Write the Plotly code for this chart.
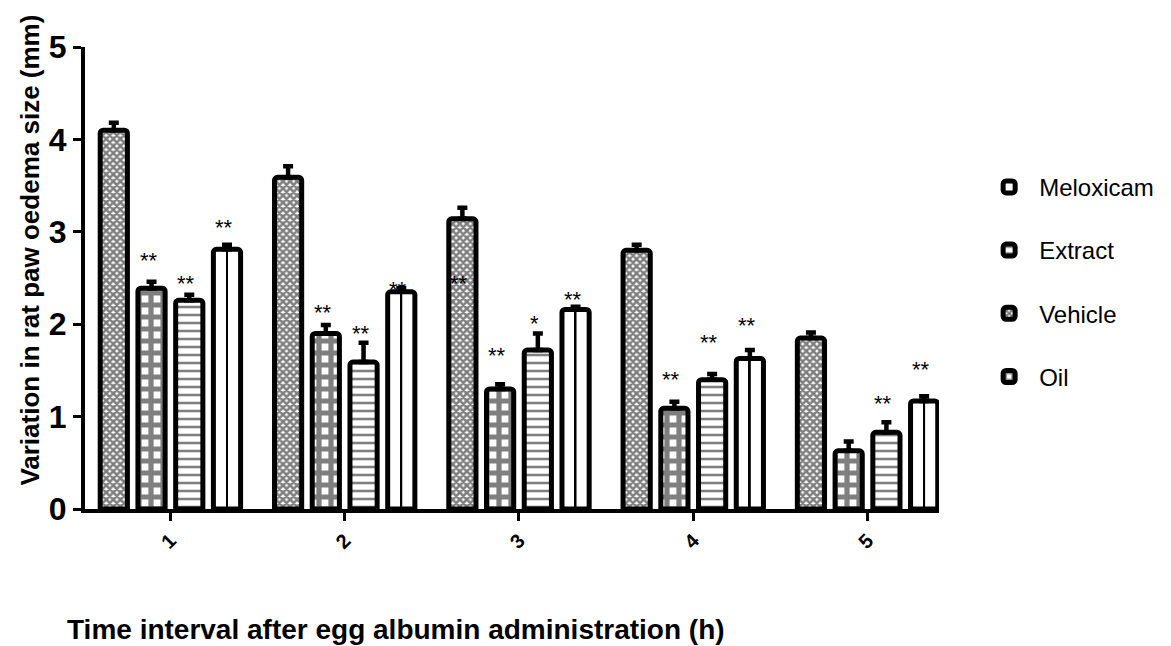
import plotly.graph_objects as go

# Time points (h) and tick labels
hours = [1, 2, 3, 4, 5]
hour_labels = ["1", "2", "3", "4", "5"]

# Mean change in paw oedema size (mm) and SEM per group
vehicle = [4.10, 3.59, 3.14, 2.80, 1.85]
vehicle_sem = [0.08, 0.12, 0.12, 0.06, 0.06]

oil = [2.39, 1.90, 1.30, 1.09, 0.63]
oil_sem = [0.07, 0.09, 0.05, 0.07, 0.10]

extract = [2.26, 1.59, 1.72, 1.40, 0.83]
extract_sem = [0.06, 0.21, 0.18, 0.06, 0.11]

meloxicam = [2.81, 2.35, 2.16, 1.63, 1.17]
meloxicam_sem = [0.05, 0.04, 0.03, 0.09, 0.05]

# Significance marks: (time point, group, label, height in mm)
sig_hours = [1, 1, 1, 2, 2, 2, 3, 3, 3, 3, 4, 4, 4, 5, 5]
sig_groups = ["Oil", "Extract", "Meloxicam", "Oil", "Extract", "Meloxicam",
              "Vehicle", "Oil", "Extract", "Meloxicam",
              "Oil", "Extract", "Meloxicam", "Extract", "Meloxicam"]
sig_labels = ["**", "**", "**", "**", "**", "**",
              "**", "**", "*", "**",
              "**", "**", "**", "**", "**"]
sig_levels = [2.76, 2.52, 3.12, 2.20, 1.97, 2.45,
              2.52, 1.74, 2.08, 2.34,
              1.48, 1.88, 2.06, 1.22, 1.59]

FONT = "Liberation Sans, Arial, sans-serif"
SLOT = 0.2165      # spacing between neighbouring bars within a time point
BAR_W = 0.156      # bar width in axis units

groups = [
    ("Vehicle", vehicle, vehicle_sem, dict(shape="x", size=5, solidity=0.75), 3),
    ("Oil", oil, oil_sem, dict(shape="+", size=12, solidity=0.68), 4),
    ("Extract", extract, extract_sem, dict(shape="-", size=8, solidity=0.32), 2),
    ("Meloxicam", meloxicam, meloxicam_sem, dict(shape=""), 1),
]
order = [g[0] for g in groups]

fig = go.Figure()
for k, (name, vals, sem, pat, rank) in enumerate(groups):
    off = (k - 1.5) * SLOT
    fig.add_trace(go.Bar(
        x=hours, y=vals, name=name, legendrank=rank, legendgroup=name,
        width=BAR_W, offset=off - BAR_W / 2,
        marker=dict(color="white", line=dict(color="black", width=5),
                    pattern=dict(fgcolor="black", bgcolor="white", **pat)),
        error_y=dict(type="data", array=sem, arrayminus=[0] * len(sem),
                     symmetric=False, color="black", thickness=4.5, width=5),
        hoverinfo="x+y",
    ))
    if name == "Meloxicam":
        # thin centre rule inside the open bars
        fig.add_trace(go.Bar(
            x=hours, y=vals, width=0.011, offset=off - 0.0055,
            legendgroup=name, showlegend=False, hoverinfo="skip",
            marker=dict(color="black", line=dict(width=0)),
        ))

for h, grp, lab, lvl in zip(sig_hours, sig_groups, sig_labels, sig_levels):
    k = order.index(grp)
    fig.add_annotation(
        x=h + (k - 1.5) * SLOT, y=lvl, text=lab, showarrow=False,
        xshift=-3, yshift=-7, font=dict(family=FONT, size=22, color="black"),
    )

fig.add_annotation(
    xref="paper", yref="paper", x=-0.023, y=-0.26, xanchor="left", yanchor="middle",
    text="Time interval after egg albumin administration (h)", showarrow=False,
    font=dict(family=FONT, size=28, color="black", weight="bold"),
)
fig.add_annotation(
    xref="paper", yref="paper", x=-0.064, y=0.56, xanchor="center", yanchor="middle",
    textangle=-90, text="Variation in rat paw oedema size (mm)", showarrow=False,
    font=dict(family=FONT, size=26, color="black", weight="bold"),
)

fig.update_layout(
    width=1171, height=646,
    margin=dict(l=85, r=226, t=47, b=137),
    paper_bgcolor="white", plot_bgcolor="white",
    barmode="overlay", barcornerradius=3,
    showlegend=True,
    legend=dict(x=1.047, y=0.745, xanchor="left", yanchor="top",
                font=dict(family=FONT, size=24, color="black"),
                tracegroupgap=29, itemwidth=50, bgcolor="rgba(0,0,0,0)"),
    font=dict(family=FONT, color="black"),
)
fig.update_xaxes(
    range=[0.51, 5.41], tickvals=hours, ticktext=hour_labels, tickangle=-45,
    ticks="outside", ticklen=8, tickwidth=3, tickcolor="black",
    showline=True, linewidth=4, linecolor="black",
    showgrid=False, zeroline=False,
    tickfont=dict(family=FONT, size=20, color="black", weight="bold"),
)
fig.update_yaxes(
    range=[0, 5], tickvals=[0, 1, 2, 3, 4, 5],
    ticks="outside", ticklen=8, tickwidth=3, tickcolor="black",
    showline=True, linewidth=4, linecolor="black",
    showgrid=False, zeroline=False,
    tickfont=dict(family=FONT, size=32, color="black", weight="bold"),
)

fig.write_html("out.html")
